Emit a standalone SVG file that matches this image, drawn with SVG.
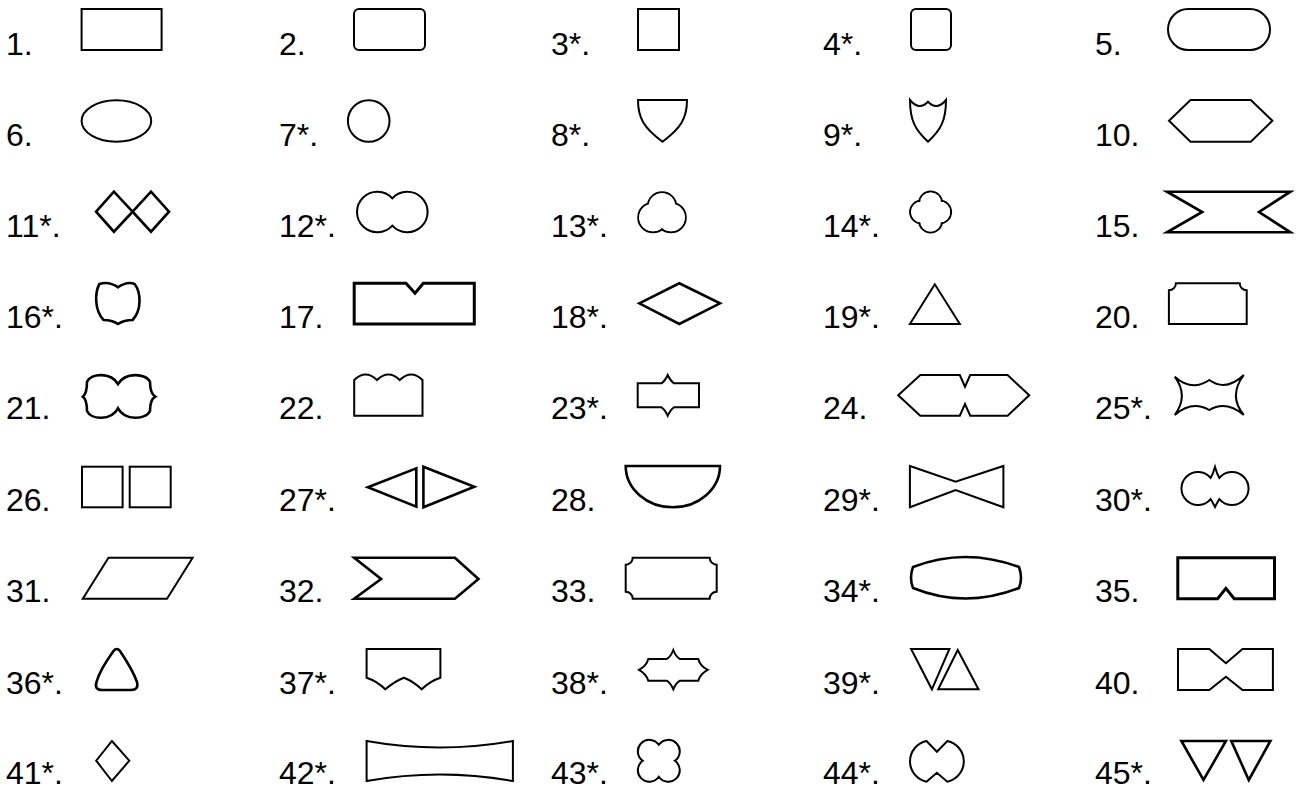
<svg xmlns="http://www.w3.org/2000/svg" width="1302" height="789" viewBox="0 0 1302 789">
<style>
text{font-family:"Liberation Sans",Arial,sans-serif;font-size:32px;fill:#000}
.s{fill:none;stroke:#000;stroke-width:2;stroke-linejoin:miter}
.t{fill:none;stroke:#000;stroke-width:2.6;stroke-linejoin:miter}
.k{fill:none;stroke:#000;stroke-width:3;stroke-linejoin:miter}
.u{fill:none;stroke:#000;stroke-width:2}
.w{fill:#fff;stroke:none}
</style>
<rect width="1302" height="789" fill="#fff"/>
<!-- Row 1 -->
<g id="n1"><text x="6" y="55">1.</text><rect class="s" x="81.6" y="9" width="80" height="41"/></g>
<g id="n2"><text x="279" y="55">2.</text><rect class="s" x="354" y="9" width="71" height="41" rx="5"/></g>
<g id="n3"><text x="551" y="55">3*.</text><rect class="s" x="638" y="9" width="41" height="41"/></g>
<g id="n4"><text x="823" y="55">4*.</text><rect class="s" x="911" y="9" width="40" height="41" rx="5"/></g>
<g id="n5"><text x="1095" y="55">5.</text><rect class="s" x="1168" y="9" width="102" height="41" rx="20" ry="20.5"/></g>
<!-- Row 2 -->
<g id="n6"><text x="6" y="146">6.</text><ellipse class="s" cx="116.4" cy="121" rx="34.8" ry="20.8"/></g>
<g id="n7"><text x="279" y="146">7*.</text><circle class="s" cx="368.7" cy="121" r="20.8"/></g>
<g id="n8"><text x="551" y="146">8*.</text><path class="s" d="M638,100 H687 C687,118 681,128 662.5,141.7 C644,128 638,118 638,100 Z"/></g>
<g id="n9"><text x="823" y="146">9*.</text><path class="s" d="M910,100 Q919,111 928,101.7 Q937,111 946,100 C946,120 941,130 928,141.7 C915,130 910,120 910,100 Z"/></g>
<g id="n10"><text x="1095" y="146">10.</text><polygon class="s" points="1190.5,100 1250.8,100 1272.4,120.8 1250.8,141.7 1190.5,141.7 1169,120.8"/></g>
<!-- Row 3 -->
<g id="n11"><text x="6" y="237">11*.</text><polygon class="t" points="96.1,211.7 113.9,191.7 132.6,211.7 113.9,231.7"/><polygon class="t" points="132.6,211.7 151,191.7 169,211.7 151,231.7"/></g>
<g id="n12"><text x="279" y="237">12*.</text><path class="s" d="M392.3,198.3 A20.3,20.3 0 1 1 392.3,225.7 A20.3,20.3 0 1 1 392.3,198.3 Z"/></g>
<g id="n13"><text x="551" y="237">13*.</text>
<circle class="u" cx="662" cy="206.5" r="14.3"/><circle class="u" cx="653" cy="217.5" r="14.8"/><circle class="u" cx="671" cy="217.5" r="14.8"/>
<circle class="w" cx="662" cy="206.5" r="13.3"/><circle class="w" cx="653" cy="217.5" r="13.8"/><circle class="w" cx="671" cy="217.5" r="13.8"/></g>
<g id="n14"><text x="823" y="237">14*.</text>
<circle class="u" cx="930.6" cy="203" r="11.5"/><circle class="u" cx="939.6" cy="212" r="11.5"/><circle class="u" cx="930.6" cy="221" r="11.5"/><circle class="u" cx="921.6" cy="212" r="11.5"/>
<circle class="w" cx="930.6" cy="203" r="10.5"/><circle class="w" cx="939.6" cy="212" r="10.5"/><circle class="w" cx="930.6" cy="221" r="10.5"/><circle class="w" cx="921.6" cy="212" r="10.5"/></g>
<g id="n15"><text x="1095" y="237">15.</text><polygon class="t" points="1167,191.7 1290.4,191.7 1259,212 1290.4,232.3 1167,232.3 1202.2,212"/></g>
<!-- Row 4 -->
<g id="n16"><text x="6" y="328">16*.</text><path class="t" d="M99.4,284 Q109,281 118,287.3 Q127,281 134.6,284 C141,292 142,310 132.6,320 Q124,320 118,324 Q112,320 103.6,320 C94,310 95,292 99.4,284 Z"/></g>
<g id="n17"><text x="279" y="328">17.</text><path class="k" d="M354.2,283.3 H406 L415,293.3 L423.3,283.3 H474.3 V324 H354.2 Z"/></g>
<g id="n18"><text x="551" y="328">18*.</text><polygon class="t" points="639.3,303.3 679.3,283.3 720,303.3 679.3,324"/></g>
<g id="n19"><text x="823" y="328">19*.</text><polygon class="s" points="909.9,324 934.8,284.3 959.8,324"/></g>
<g id="n20"><text x="1095" y="328">20.</text><path class="s" d="M1168.9,324 V290.3 A7,7 0 0 0 1175.9,283.3 H1239.7 A7,7 0 0 0 1246.7,290.3 V324 Z"/></g>
<!-- Row 5 -->
<g id="n21"><text x="6" y="419">21.</text><path class="t" d="M87,381.7 C91,373 111,372 118,384 C125,372 146,373 150,381.7 C150,389 151,394 155.3,396.7 C151,399 150,404 150,411 C146,420 125,421 118,408.3 C111,421 91,420 87,411 C87,404 86,399 82.9,396.7 C86,394 87,389 87,381.7 Z"/></g>
<g id="n22"><text x="279" y="419">22.</text><path class="s" d="M354.2,380 Q365.6,369 377,380 Q388.4,369 399.8,380 Q411.2,369 422.5,380 V415.7 H354.2 Z"/></g>
<g id="n23"><text x="551" y="419">23*.</text><path class="s" d="M637.7,383.3 H661.5 Q665,381 667.7,375 Q670.5,381 674,383.3 H699 V407.3 H674 Q670.5,409.5 667.7,415.7 Q665,409.5 661.5,407.3 H637.7 Z"/></g>
<g id="n24"><text x="823" y="419">24.</text><polygon class="s" points="920.3,375 959.8,375 965,386.7 970.2,375 1007.6,375 1029.2,395.3 1007.6,415.7 970.2,415.7 965,404 959.8,415.7 920.3,415.7 898.2,395.3"/></g>
<g id="n25"><text x="1095" y="419">25*.</text><path class="s" d="M1174.7,376.7 Q1192,392 1209.3,380 Q1226,392 1243.8,375 Q1228,396 1243.8,415 Q1226,400 1209.3,410 Q1192,400 1174.7,415 Q1189,396 1174.7,376.7 Z"/></g>
<!-- Row 6 -->
<g id="n26"><text x="6" y="511">26.</text><rect class="s" x="82" y="466.7" width="40.6" height="40.6"/><rect class="s" x="129.7" y="466.7" width="41" height="40.6"/></g>
<g id="n27"><text x="279" y="511">27*.</text><polygon class="t" points="367.9,487.3 416.3,468.3 416.3,506.7"/><polygon class="t" points="423.4,466.7 474.3,486.7 423.4,507.3"/></g>
<g id="n28"><text x="551" y="511">28.</text><path class="t" d="M625.7,466 H720 A47.15,41.3 0 0 1 625.7,466 Z"/></g>
<g id="n29"><text x="823" y="511">29*.</text><polygon class="s" points="909.9,466 955.6,481.7 1003.4,466 1003.4,507.3 955.6,490 909.9,507.3"/></g>
<g id="n30"><text x="1095" y="511">30*.</text><path class="s" d="M1215,467 Q1217,474 1219.4,477.9 A16.5,16.5 0 1 1 1219.4,499.1 Q1217,503 1215,507 Q1213,503 1210.6,499.1 A16.5,16.5 0 1 1 1210.6,477.9 Q1213,474 1215,467 Z"/></g>
<!-- Row 7 -->
<g id="n31"><text x="6" y="602">31.</text><polygon class="s" points="108.5,557.7 192.6,557.7 167,598.7 82.8,598.7"/></g>
<g id="n32"><text x="279" y="602">32.</text><polygon class="t" points="354.2,557.7 454.9,557.7 478.5,579 454.9,598.7 354.2,598.7 381.1,579"/></g>
<g id="n33"><text x="551" y="602">33.</text><path class="s" d="M625.7,564.7 A7,7 0 0 0 632.7,557.7 H709.7 A7,7 0 0 0 716.7,564.7 V591.7 A7,7 0 0 0 709.7,598.7 H632.7 A7,7 0 0 0 625.7,591.7 Z"/></g>
<g id="n34"><text x="823" y="602">34*.</text><path class="t" d="M913,567 Q965,547 1019,567 Q1023,578 1019,588 Q965,609 913,588 Q909,578 913,567 Z"/></g>
<g id="n35"><text x="1095" y="602">35.</text><path class="k" d="M1177.8,557.7 H1274.5 V598.7 H1234.2 L1225.9,588.3 L1217.6,598.7 H1177.8 Z"/></g>
<!-- Row 8 -->
<g id="n36"><text x="6" y="694">36*.</text><path class="t" d="M113.5,651 Q116.8,647 120,651 C126,660 134,673 137,682 Q139,690 131,690 H102 Q94,690 96.5,682 C99,673 107,660 113.5,651 Z"/></g>
<g id="n37"><text x="279" y="694">37*.</text><path class="s" d="M366.6,649 H440.4 V677.7 Q430,681 421.7,689.3 Q413,681 403.9,677.7 Q395,681 385.3,689.3 Q377,681 366.6,677.7 Z"/></g>
<g id="n38"><text x="551" y="694">38*.</text><path class="s" d="M648.3,659 H666.7 Q670.5,657 673.3,650 Q676,657 680,659 H698.3 Q700,666 707.7,669.8 Q700,674 698.3,680.7 H680 Q676,683 673.3,689.3 Q670.5,683 666.7,680.7 H648.3 Q646.5,674 639,669.8 Q646.5,666 648.3,659 Z"/></g>
<g id="n39"><text x="823" y="694">39*.</text><polygon class="s" points="911.1,649 949.4,649 931.9,689.3"/><polygon class="s" points="957.7,650 978.5,689.3 938.2,689.3"/></g>
<g id="n40"><text x="1095" y="694">40.</text><path class="s" d="M1178,649 H1209.3 L1225.9,663.3 L1242.5,649 H1272.9 V690 H1242.5 L1225.9,676.7 L1209.3,690 H1178 Z"/></g>
<!-- Row 9 -->
<g id="n41"><text x="6" y="784">41*.</text><polygon class="s" points="111.9,741 129.3,760.7 111.9,781 96.2,760.7"/></g>
<g id="n42"><text x="279" y="784">42*.</text><path class="s" d="M366.6,741 Q439.7,754 512.9,741 V781 Q439.7,768 366.6,781 Z"/></g>
<g id="n43"><text x="551" y="784">43*.</text><path class="s" d="M658.8,744.8 A11.5,11.5 0 1 1 674.8,760.8 A11.5,11.5 0 1 1 658.8,776.8 A11.5,11.5 0 1 1 642.8,760.8 A11.5,11.5 0 1 1 658.8,744.8 Z"/></g>
<g id="n44"><text x="823" y="784">44*.</text><path class="s" d="M926.5,741 L936.9,751.7 L947.3,741 A20.8,20.8 0 0 1 947.3,781.7 L936.9,772.7 L926.5,781.7 A20.8,20.8 0 0 1 926.5,741 Z"/></g>
<g id="n45"><text x="1095" y="784">45*.</text><polygon class="t" points="1181.4,741 1225.9,741 1203.5,780"/><polygon class="t" points="1231.3,741 1270.4,741 1248.8,780"/></g>
</svg>
